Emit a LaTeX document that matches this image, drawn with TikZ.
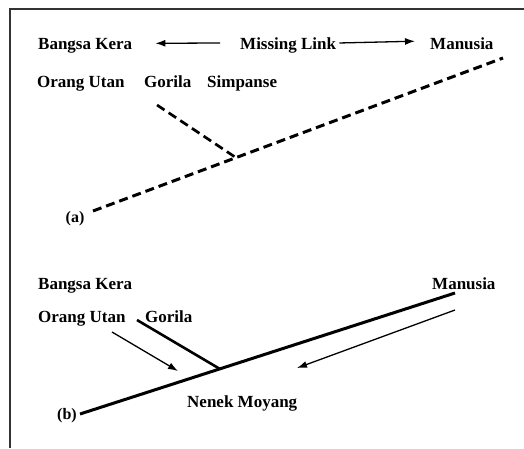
\documentclass[tikz,border=0pt]{standalone}
\usepackage{fontspec}
\setmainfont{Liberation Serif}
\usetikzlibrary{arrows.meta}
\tikzset{
  lbl/.style={anchor=base west, inner sep=0pt, font=\fontsize{17}{20}\selectfont\bfseries},
  tag/.style={anchor=center, inner sep=0pt, font=\fontsize{16}{19}\selectfont\bfseries},
  dashedbranch/.style={line width=3pt, dash pattern=on 9pt off 5pt},
  solidbranch/.style={line width=3pt},
  thinarrow/.style={line width=1.3pt, -{Latex[length=10pt,width=7pt]}},
  frame/.style={line width=1.5pt, draw=black!80}
}
\begin{document}
\begin{tikzpicture}[x=1pt,y=-1pt]
  \useasboundingbox (0,0) rectangle (524,448);
  % partial frame: top and left edges
  \draw[frame] (524,9) -- (10,9) -- (10,448);

  % ---- (a) missing-link view ----
  \node[lbl] (bka) at (38,49) {Bangsa Kera};
  \node[lbl] (ml)  at (240,49) {Missing Link};
  \node[lbl] (mna) at (430,49) {Manusia};
  \node[lbl] (oua) at (37,87) {Orang Utan};
  \node[lbl] (goa) at (144,87) {Gorila};
  \node[lbl] (sia) at (207,87) {Simpanse};
  \node[tag] (la)  at (75,219) {(a)};

  \draw[thinarrow] ([shift={(-20,-2)}]ml.west) -- ([shift={(23,-2)}]bka.east);
  \draw[thinarrow] ([shift={(3,-2)}]ml.east) -- ([shift={(-15,-2)}]mna.west);

  \coordinate (a0) at (93,211);
  \coordinate (a1) at (503,58);
  \coordinate (aj) at (235,157);
  \coordinate (ag) at (157,105);
  \draw[dashedbranch] (a0) -- (a1);
  \draw[dashedbranch, line width=2.7pt] (ag) -- (aj);

  % ---- (b) common-ancestor view ----
  \node[lbl] (bkb) at (38,289) {Bangsa Kera};
  \node[lbl] (mnb) at (432,289) {Manusia};
  \node[lbl] (oub) at (38,322) {Orang Utan};
  \node[lbl] (gob) at (145,322) {Gorila};
  \node[lbl] (nm)  at (187,407) {Nenek Moyang};
  \node[tag] (lb)  at (67,416) {(b)};

  \coordinate (b0) at (80,414);
  \coordinate (b1) at (455,293);
  \coordinate (bj) at (220,369);
  \coordinate (bg) at (137,320);
  \draw[solidbranch] (b0) -- (b1);
  \draw[solidbranch, line width=2.6pt] (bg) -- (bj);

  \coordinate (ous) at (112,332);
  \coordinate (oue) at (178,371);
  \coordinate (mns) at (455,310);
  \coordinate (mne) at (297,368);
  \draw[thinarrow] (ous) -- (oue);
  \draw[thinarrow] (mns) -- (mne);
\end{tikzpicture}
\end{document}
